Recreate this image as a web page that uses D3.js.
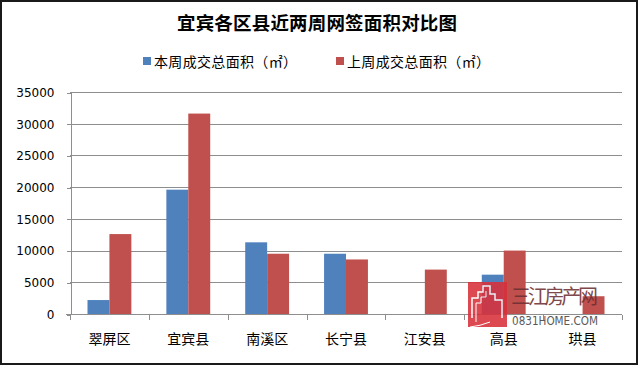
<!DOCTYPE html>
<html lang="zh">
<head>
<meta charset="utf-8">
<title>宜宾各区县近两周网签面积对比图</title>
<script src="https://d3js.org/d3.v7.min.js"></script>
<style>
  body { margin: 0; background: #fff; }
  svg { display: block; }
  .grid line { stroke: #8e8e8e; stroke-width: 1; shape-rendering: crispEdges; }
  .axis path, .axis line { stroke: #8e8e8e; shape-rendering: crispEdges; }
  .axis text { fill: #000; }
</style>
</head>
<body>
<script>
var w = 640, h = 367;

var districts = ["翠屏区", "宜宾县", "南溪区", "长宁县", "江安县", "高县", "珙县"];
var seriesNames = ["本周成交总面积（㎡）", "上周成交总面积（㎡）"];
var thisWeek = [2200, 19600, 11300, 9500, 0, 6200, 0];
var lastWeek = [12600, 31600, 9500, 8600, 7000, 10000, 2800];
var yTicks = [0, 5000, 10000, 15000, 20000, 25000, 30000, 35000];
var colors = ["#4f81bd", "#c0504d"];

var plotLeft = 70, plotRight = 622, plotTop = 92, plotBottom = 314;

var svg = d3.select("body").append("svg")
    .attr("width", w)
    .attr("height", h);

svg.append("rect")
    .attr("width", w).attr("height", h)
    .attr("fill", "#fff");

// frame
svg.append("rect")
    .attr("x", 1).attr("y", 1)
    .attr("width", 636).attr("height", 363)
    .attr("fill", "none")
    .attr("stroke", "#1a1a1a")
    .attr("stroke-width", 2);

var x0 = d3.scaleBand().domain(districts).range([plotLeft, plotRight]);
var x1 = d3.scaleBand().domain([0, 1]).range([17.5, x0.bandwidth() - 17.5]);
var y = d3.scaleLinear().domain([0, 35000]).range([plotBottom, plotTop]);

// gridlines
svg.append("g")
    .attr("class", "grid")
    .selectAll("line")
    .data(yTicks.slice(1))
    .enter().append("line")
    .attr("x1", plotLeft).attr("x2", plotRight)
    .attr("y1", function(d) { return Math.round(y(d)) + 0.5; })
    .attr("y2", function(d) { return Math.round(y(d)) + 0.5; });

// y axis
var yAxis = svg.append("g")
    .attr("class", "axis")
    .attr("transform", "translate(" + (plotLeft + 0.5) + ",0.5)")
    .call(d3.axisLeft(y).tickValues(yTicks).tickFormat(d3.format("d"))
        .tickSize(4).tickPadding(12).tickSizeOuter(0));
yAxis.selectAll("text")
    .style("font-family", "'DejaVu Sans', Verdana, sans-serif")
    .style("font-size", "12px");

// bars
var groups = svg.append("g").selectAll("g")
    .data(districts)
    .enter().append("g")
    .attr("transform", function(d) { return "translate(" + x0(d) + ",0)"; });

groups.selectAll("rect")
    .data(function(d, i) { return [thisWeek[i], lastWeek[i]]; })
    .enter().append("rect")
    .attr("x", function(d, i) { return x1(i); })
    .attr("width", x1.bandwidth())
    .attr("y", function(d) { return y(d); })
    .attr("height", function(d) { return plotBottom - y(d); })
    .attr("fill", function(d, i) { return colors[i]; });

// x axis
var xAxis = svg.append("g")
    .attr("class", "axis")
    .attr("transform", "translate(0," + (plotBottom + 0.5) + ")");
xAxis.append("line")
    .attr("x1", plotLeft - 4).attr("x2", plotRight)
    .attr("y1", 0).attr("y2", 0)
    .attr("stroke", "#8e8e8e");
xAxis.selectAll(".tk")
    .data(districts.concat(["end"]))
    .enter().append("line")
    .attr("class", "tk")
    .attr("x1", function(d, i) { return Math.round(plotLeft + i * x0.bandwidth()) + 0.5; })
    .attr("x2", function(d, i) { return Math.round(plotLeft + i * x0.bandwidth()) + 0.5; })
    .attr("y1", 0).attr("y2", 5)
    .attr("stroke", "#8e8e8e");
xAxis.selectAll("text")
    .data(districts)
    .enter().append("text")
    .attr("x", function(d) { return x0(d) + x0.bandwidth() / 2; })
    .attr("y", 29)
    .attr("text-anchor", "middle")
    .style("font-family", "'Noto Sans CJK SC', sans-serif")
    .style("font-size", "14px")
    .text(function(d) { return d; });

// title
svg.append("text")
    .attr("x", 177)
    .attr("y", 30)
    .attr("textLength", 280)
    .style("font-family", "'Noto Sans CJK SC', sans-serif")
    .style("font-weight", "bold")
    .style("font-size", "18.5px")
    .text("宜宾各区县近两周网签面积对比图");

// legend
var legendX = [143, 336];
var legend = svg.selectAll(".legend")
    .data(seriesNames)
    .enter().append("g")
    .attr("class", "legend")
    .attr("transform", function(d, i) { return "translate(" + legendX[i] + ",57)"; });
legend.append("rect")
    .attr("width", 8).attr("height", 8)
    .attr("fill", function(d, i) { return colors[i]; });
legend.append("text")
    .attr("x", 11)
    .attr("y", 10)
    .attr("textLength", 143)
    .style("font-family", "'Noto Sans CJK SC', sans-serif")
    .style("font-size", "14px")
    .text(function(d) { return d; });

// watermark
var wm = svg.append("g").attr("opacity", 0.88);
wm.append("rect")
    .attr("x", 468).attr("y", 282)
    .attr("width", 39).attr("height", 45)
    .attr("fill", "#d9303a");
wm.append("path")
    .attr("d", "M472,318 L472,298 L478,298 L478,292 L483,292 L483,286 L490,286 L490,294 L495,294 L495,300 L502,300 L502,318")
    .attr("fill", "none")
    .attr("stroke", "#fff")
    .attr("stroke-width", 1.5);
wm.append("path")
    .attr("d", "M476,322 L476,303 L481,303 L481,297 L486,297 L486,291 M490,322 Q480,326 470,327")
    .attr("fill", "none")
    .attr("stroke", "#fff")
    .attr("stroke-width", 1);
wm.append("text")
    .attr("x", 511).attr("y", 304)
    .attr("textLength", 87)
    .style("font-family", "'Noto Sans CJK SC', sans-serif")
    .style("font-size", "20px")
    .attr("fill", "#6e2f33")
    .text("三江房产网");
wm.append("text")
    .attr("x", 512).attr("y", 325)
    .attr("textLength", 86)
    .attr("lengthAdjust", "spacingAndGlyphs")
    .style("font-family", "'Liberation Sans Narrow', 'DejaVu Sans Condensed', sans-serif")
    .style("font-size", "13px")
    .attr("fill", "#444")
    .text("0831HOME.COM");
</script>
</body>
</html>
